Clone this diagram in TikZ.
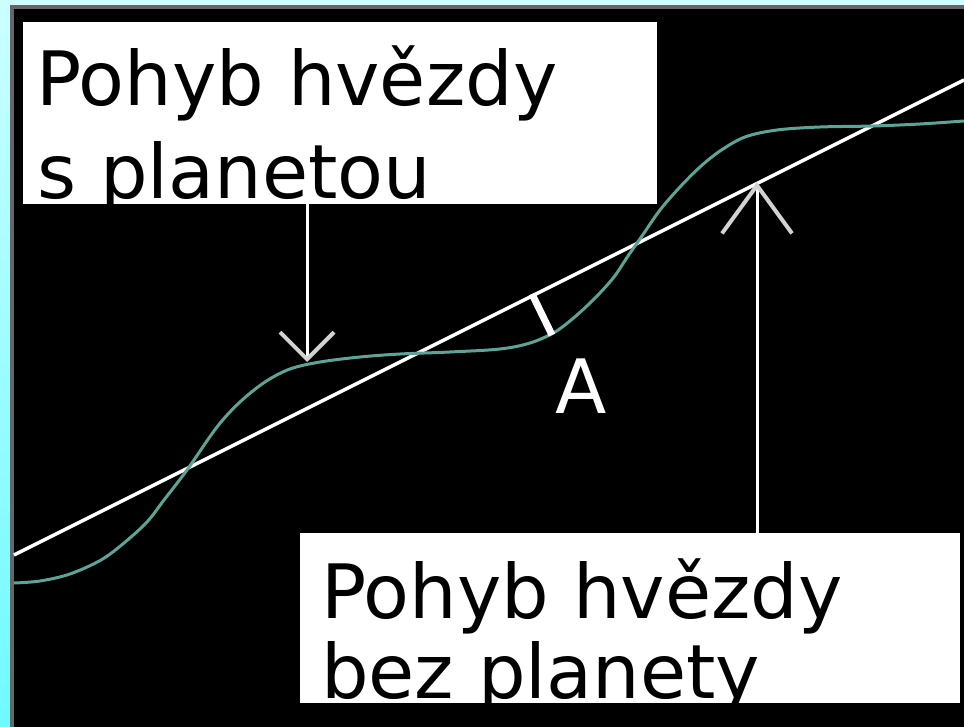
\documentclass[tikz,border=0pt]{standalone}
\usepackage{fontspec}
\setmainfont{DejaVu Sans}
\usetikzlibrary{arrows.meta}
\definecolor{skycyan}{RGB}{204,255,255}
\definecolor{deepcyan}{RGB}{110,250,255}
\definecolor{framegray}{RGB}{102,102,102}
\definecolor{wobble}{RGB}{94,164,150}
\definecolor{barbgray}{RGB}{210,210,210}

\begin{document}
\begin{tikzpicture}[x=1pt,y=-1pt,
  panel/.style={fill=white, inner sep=0pt, anchor=north west},
  caption/.style={inner sep=0pt, anchor=base west, font=\fontsize{75}{90}\selectfont},
  pointer/.style 2 args={white, line width=3pt,
    -{Straight Barb[length=#1, width=#2, line width=4pt, color=barbgray]}}]
\def\picw{964}
\def\pich{727}
\useasboundingbox (0,0) rectangle (\picw,\pich);

% frame
\shade[top color=skycyan, bottom color=deepcyan] (0,0) rectangle (10,\pich);
\fill[skycyan] (10,0) rectangle (\picw,5);
\fill[framegray] (10,5) rectangle (\picw,\pich);
\fill[black] (14,9) rectangle (\picw,\pich);

% motion without planet
\coordinate (lineStart) at (14,555);
\coordinate (lineEnd) at (\picw,80);
\draw[white, line width=3.5pt] (lineStart) -- (lineEnd);

% motion with planet
\draw[wobble, line width=3pt] plot[smooth, tension=0.55] coordinates {
  (14,583) (40,581) (70,574) (101,560) (124,543) (147,522) (164,500)
  (187,470) (217,427) (240,402) (265,382) (290,369) (320,362) (360,357)
  (400,354) (450,352) (500,349) (530,343) (555,332) (577,315) (597,296)
  (614,277) (628,256) (642,236) (660,210) (680,187) (700,167) (720,151)
  (745,137) (777,130) (820,127) (873,126) (920,124) (\picw,121)};

% amplitude
\coordinate (ampTop) at (532,294);
\coordinate (ampBot) at (552,335);
\draw[white, line width=7pt] (ampTop) -- (ampBot);
\node[caption, white] (labA) at (555,413) {A};

% boxes
\node[panel, minimum width=634pt, minimum height=182pt] (topbox) at (23,22) {};
\node[caption] (topLineA) at (36,106) {Pohyb hvězdy};
\node[caption] (topLineB) at (37,199) {s planetou};

\node[panel, minimum width=660pt, minimum height=170pt] (botbox) at (300,533) {};
\node[caption] (botLineA) at (321,618) {Pohyb hvězdy};
\node[caption] (botLineB) at (321,698) {bez planety};

% pointers
\coordinate (tipTop) at (307,362);
\coordinate (tipBot) at (757,182);
\draw[pointer={27pt}{54pt}] (topbox.south -| tipTop) -- (tipTop);
\draw[pointer={48pt}{70pt}] (botbox.north -| tipBot) -- (tipBot);
\end{tikzpicture}
\end{document}
